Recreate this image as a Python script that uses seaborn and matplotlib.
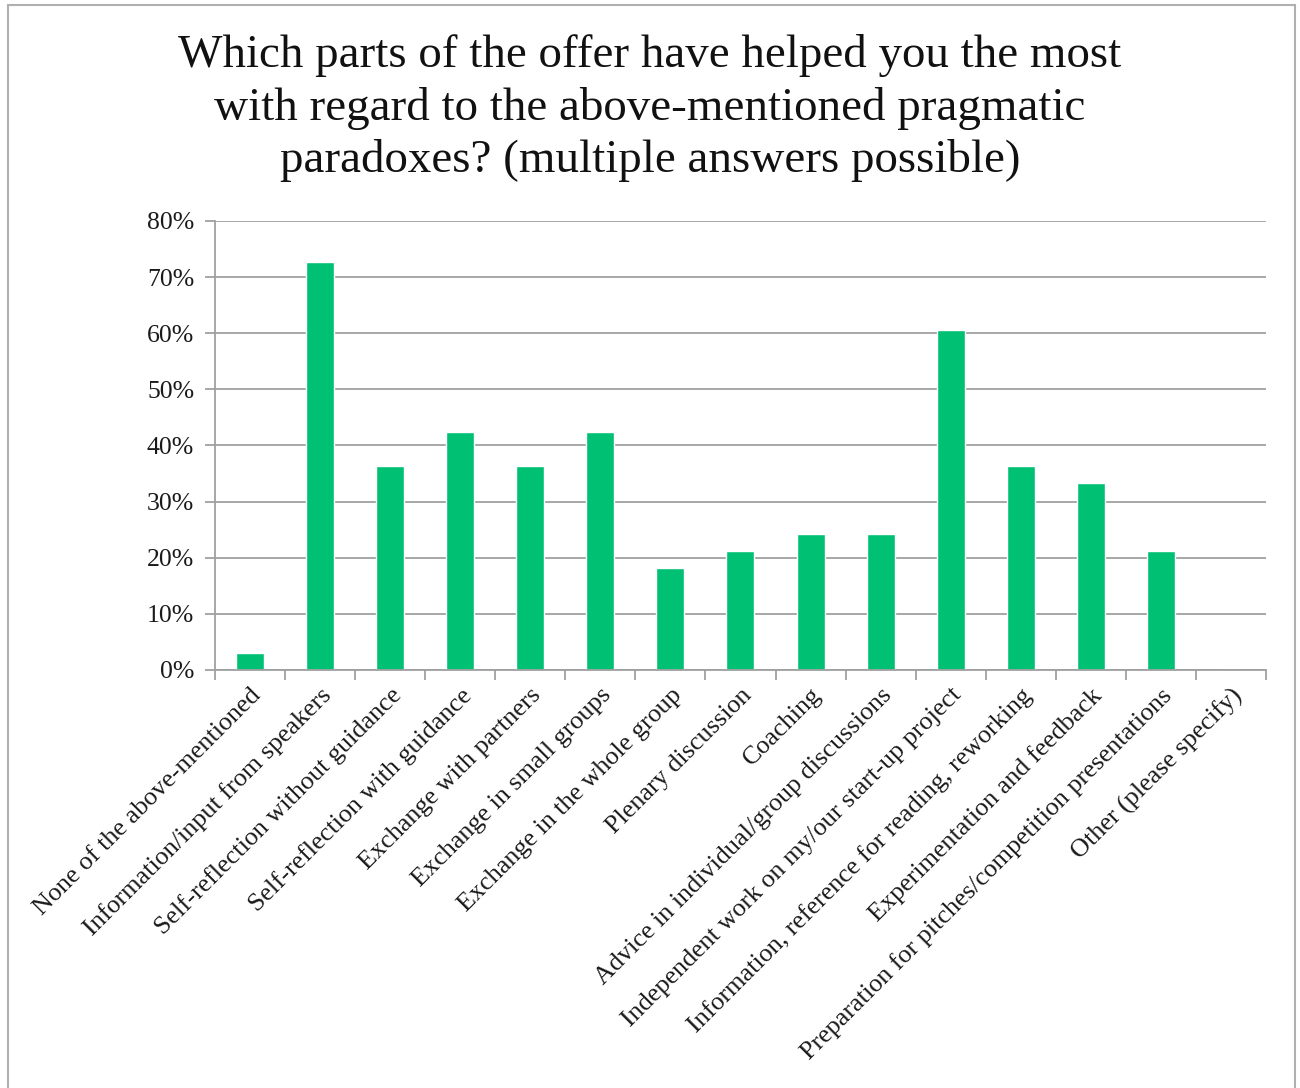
import matplotlib
matplotlib.use("Agg")
import matplotlib.pyplot as plt
import seaborn as sns
import pandas as pd
from matplotlib.patches import Rectangle
from matplotlib.ticker import PercentFormatter, FixedLocator

categories = [
    "None of the above-mentioned",
    "Information/input from speakers",
    "Self-reflection without guidance",
    "Self-reflection with guidance",
    "Exchange with partners",
    "Exchange in small groups",
    "Exchange in the whole group",
    "Plenary discussion",
    "Coaching",
    "Advice in individual/group discussions",
    "Independent work on my/our start-up project",
    "Information, reference for reading, reworking",
    "Experimentation and feedback",
    "Preparation for pitches/competition presentations",
    "Other (please specify)",
]
values = [3.03, 72.73, 36.36, 42.42, 36.36, 42.42, 18.18, 21.21, 24.24, 24.24,
          60.61, 36.36, 33.33, 21.21, 0.0]
yticks = [0, 10, 20, 30, 40, 50, 60, 70, 80]
title = ("Which parts of the offer have helped you the most\n"
         "with regard to the above-mentioned pragmatic\n"
         "paradoxes? (multiple answers possible)")

df = pd.DataFrame({"category": categories, "value": values})

sns.set_theme(style="white")
plt.rcParams["font.family"] = ["Liberation Serif", "DejaVu Serif"]

fig = plt.figure(figsize=(13, 10.88), dpi=100)
ax = fig.add_axes([0.1654, 0.3842, 0.9738 - 0.1654, 0.7969 - 0.3842])

sns.barplot(data=df, x="category", y="value", color="#00C073", width=0.4,
            saturation=1, ax=ax)

ax.set_ylim(0, 80)
ax.set_xlim(-0.5, len(categories) - 0.5)
ax.yaxis.set_major_locator(FixedLocator(yticks))
ax.yaxis.set_major_formatter(PercentFormatter(decimals=0))
ax.grid(axis="y", color="#a0a0a0", linewidth=1.3)
ax.set_axisbelow(True)
for s in ["top", "right"]:
    ax.spines[s].set_visible(False)
for s in ["left", "bottom"]:
    ax.spines[s].set_color("#a0a0a0")
    ax.spines[s].set_linewidth(1.3)

ax.tick_params(axis="y", which="major", length=7, width=1.3, color="#a0a0a0",
               labelsize=18.5, labelcolor="#1a1a1a", pad=8, left=True)
ax.tick_params(axis="x", which="major", length=0, labelsize=18.8,
               labelcolor="#1a1a1a", pad=10)
ax.set_xticks([i - 0.5 for i in range(len(categories) + 1)], minor=True)
ax.tick_params(axis="x", which="minor", length=7, width=1.3, color="#a0a0a0",
               bottom=True)
for lab in ax.get_xticklabels():
    lab.set_rotation(45)
    lab.set_ha("right")
    lab.set_rotation_mode("anchor")

ax.set_xlabel("")
ax.set_ylabel("")

fig.text(0.5, 0.9007, title, ha="center", va="center", fontsize=33.8,
         color="#111111", linespacing=1.28)

fig.patches.append(Rectangle((0.006, -0.01), 0.99, 1.005, transform=fig.transFigure,
                             fill=False, edgecolor="#b0b0b0", linewidth=1.5))

fig.savefig("out.png", dpi=100)
